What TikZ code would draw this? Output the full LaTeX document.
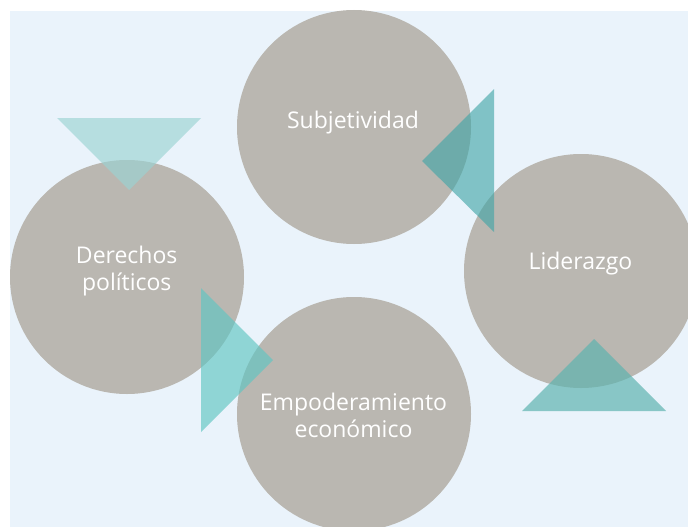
\documentclass[tikz,border=0pt]{standalone}
\usepackage{fontspec}
\setmainfont{Open Sans}
\definecolor{bgblue}{RGB}{234,243,251}
\definecolor{disc}{RGB}{186,183,177}
\definecolor{triA}{RGB}{155,211,211}
\definecolor{triB}{RGB}{64,165,166}
\definecolor{triC}{RGB}{95,197,194}
\definecolor{triD}{RGB}{93,179,175}
\tikzset{
  disk/.style={fill=disc, draw=none},
  label/.style={text=white, font=\fontsize{23}{27}\selectfont, anchor=base, inner sep=0pt},
}
\begin{document}
\begin{tikzpicture}[x=1pt,y=-1pt]
\useasboundingbox (0,0) rectangle (688,527);
\clip (0,0) rectangle (688,527);
\fill[bgblue] (10,11) rectangle (688,527);
% circles
\fill[disk] (354,127) circle (117);
\fill[disk] (581,271) circle (117);
\fill[disk] (127,277) circle (117);
\fill[disk] (354,414) circle (117);
% triangles
\fill[triA, fill opacity=0.65] (57,118) -- (201,118) -- (129,190) -- cycle;
\fill[triB, fill opacity=0.625] (494,89) -- (494,232) -- (422,161) -- cycle;
\fill[triC, fill opacity=0.65] (201,288) -- (201,432) -- (273,360) -- cycle;
\fill[triD, fill opacity=0.69] (522,411) -- (666,411) -- (594,339) -- cycle;
% labels
\node[label] (subj) at (353,128.3) {Subjetividad};
\node[label] (lid) at (580.5,269.3) {Liderazgo};
\node[label] (der1) at (126.7,263.3) {Derechos};
\node[label] (der2) at (126.7,290) {políticos};
\node[label] (emp1) at (353.5,410) {Empoderamiento};
\node[label] (emp2) at (353.5,437) {económico};
\end{tikzpicture}
\end{document}
